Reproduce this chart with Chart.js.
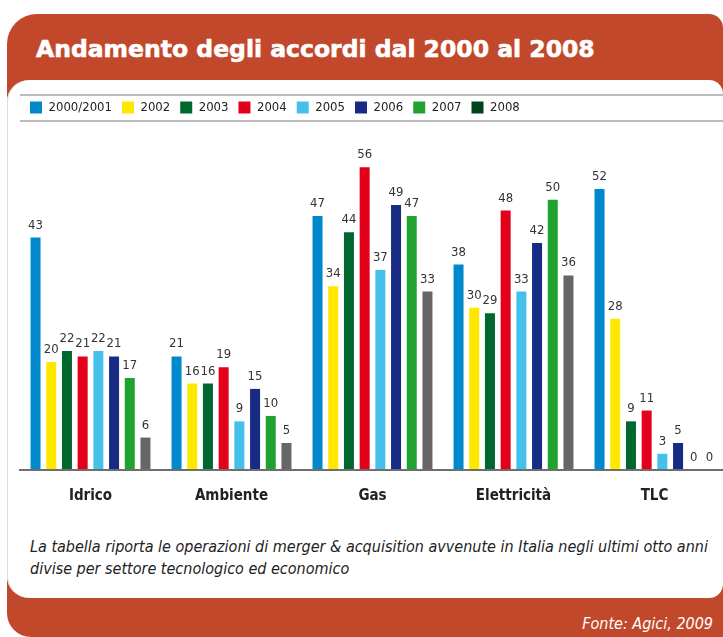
<!DOCTYPE html>
<html>
<head>
<meta charset="utf-8">
<script src="https://cdn.jsdelivr.net/npm/chart.js@4/dist/chart.umd.min.js"></script>
<style>
  html, body { margin: 0; padding: 0; }
  body { width: 723px; height: 637px; overflow: hidden; position: relative; background: #ffffff;
         font-family: "DejaVu Sans Condensed", "DejaVu Sans", sans-serif; }
  #red { position: absolute; left: 7px; top: 14px; width: 716px; height: 623px; background: #c2482c;
         border-radius: 30px 14px 0 24px; }
  #title { position: absolute; left: 36px; top: 34px; color: #ffffff; font-family: "DejaVu Sans", sans-serif;
           font-weight: bold; font-size: 23.5px; line-height: 30px; white-space: nowrap;
           -webkit-text-stroke: 0.6px #ffffff; }
  #panel { position: absolute; left: 7px; top: 80px; width: 716px; height: 518px; background: #ffffff;
           border-radius: 22px 14px 14px 22px; box-shadow: inset 1px 0 0 #e7dcd8; }
  .rule { position: absolute; left: 20px; width: 703px; height: 2px; background: #bcbcbc; }
  #chartwrap { position: absolute; left: 0px; top: 84px; width: 730px; height: 426px; }
  #caption { position: absolute; left: 30px; top: 536px; color: #222222; font-style: italic;
             font-size: 16px; line-height: 22px; white-space: nowrap; }
  #source { position: absolute; right: 10px; top: 614px; color: #ffffff; font-style: italic;
            font-size: 16px; line-height: 20px; white-space: nowrap; }
</style>
</head>
<body>
<div id="red"></div>
<div id="title">Andamento degli accordi dal 2000 al 2008</div>
<div id="panel"></div>
<div class="rule" style="top:94px"></div>
<div class="rule" style="top:120px"></div>
<div id="chartwrap"><canvas id="c" width="730" height="426"></canvas></div>
<div id="caption">La tabella riporta le operazioni di merger &amp; acquisition avvenute in Italia negli ultimi otto anni<br>divise per settore tecnologico ed economico</div>
<div id="source">Fonte: Agici, 2009</div>
<script>
const categories = ["Idrico", "Ambiente", "Gas", "Elettricità", "TLC"];
const seriesNames = ["2000/2001", "2002", "2003", "2004", "2005", "2006", "2007", "2008"];
const v2000_2001 = [43, 21, 47, 38, 52];
const v2002 = [20, 16, 34, 30, 28];
const v2003 = [22, 16, 44, 29, 9];
const v2004 = [21, 19, 56, 48, 11];
const v2005 = [22, 9, 37, 33, 3];
const v2006 = [21, 15, 49, 42, 5];
const v2007 = [17, 10, 47, 50, 0];
const v2008 = [6, 5, 33, 36, 0];
const seriesValues = [v2000_2001, v2002, v2003, v2004, v2005, v2006, v2007, v2008];
const barColors = ["#0088cc", "#ffe800", "#00672f", "#e2001a", "#45c0ea", "#172a84", "#1fa22e", "#666666"];
const legendColors = ["#0088cc", "#ffe800", "#00672f", "#e2001a", "#45c0ea", "#172a84", "#1fa22e", "#00431b"];

const FONT = '"DejaVu Sans Condensed", "DejaVu Sans", sans-serif';

const valueLabels = {
  id: 'valueLabels',
  afterDatasetsDraw(chart) {
    const ctx = chart.ctx;
    ctx.save();
    ctx.font = '13px ' + FONT;
    ctx.fillStyle = '#333333';
    ctx.textAlign = 'center';
    ctx.textBaseline = 'alphabetic';
    chart.data.datasets.forEach((ds, i) => {
      chart.getDatasetMeta(i).data.forEach((bar, j) => {
        ctx.fillText(String(ds.data[j]), bar.x, bar.y - 9);
      });
    });
    ctx.restore();
  }
};

new Chart(document.getElementById('c'), {
  type: 'bar',
  data: {
    labels: categories,
    datasets: seriesNames.map((name, i) => ({
      label: name,
      data: seriesValues[i],
      backgroundColor: barColors[i],
      borderWidth: 0,
      categoryPercentage: 0.891,
      barPercentage: 0.637
    }))
  },
  options: {
    responsive: false,
    animation: false,
    layout: { padding: { left: 20, right: 5, top: 7, bottom: 0 } },
    plugins: {
      tooltip: { enabled: false },
      legend: {
        position: 'top',
        align: 'start',
        labels: {
          boxWidth: 12,
          boxHeight: 12,
          padding: 10,
          color: '#222222',
          font: { size: 13, family: FONT },
          generateLabels(chart) {
            return chart.data.datasets.map((ds, i) => ({
              text: ds.label,
              fillStyle: legendColors[i],
              strokeStyle: legendColors[i],
              lineWidth: 0,
              hidden: false,
              datasetIndex: i,
              fontColor: '#222222'
            }));
          }
        }
      }
    },
    scales: {
      x: {
        grid: { display: false, drawTicks: false },
        border: { display: true, color: '#6e6e6e', width: 2, z: 1 },
        ticks: { color: '#222222', padding: 17, font: { size: 15, weight: 'bold', family: FONT } },
        afterFit(scale) { scale.height = 40; }
      },
      y: {
        display: false,
        min: 0,
        max: 64
      }
    }
  },
  plugins: [valueLabels]
});
</script>
</body>
</html>
